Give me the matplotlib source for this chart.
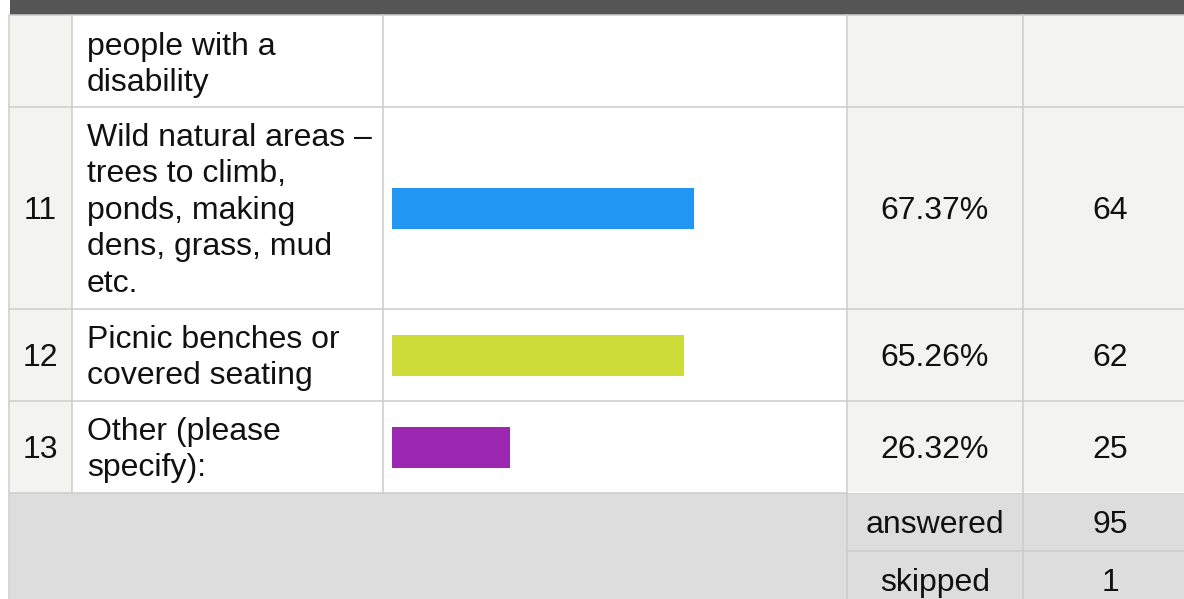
# survey results table with inline bars
import matplotlib
matplotlib.use("Agg")
import matplotlib.pyplot as plt
from matplotlib.patches import Rectangle

plt.rcParams['font.family'] = ['Liberation Sans', 'DejaVu Sans']

# data
top_label = ["people with a", "disability"]
row_numbers = ["11", "12", "13"]
row_labels = [["Wild natural areas –", "trees to climb,", "ponds, making", "dens, grass, mud", "etc."],
              ["Picnic benches or", "covered seating"],
              ["Other (please", "specify):"]]
percents = [67.37, 65.26, 26.32]
counts = [64, 62, 25]
bar_colors = ["#2196F3", "#CDDC39", "#9C27B0"]
footer_labels = ["answered", "skipped"]
footer_values = [95, 1]

# layout in pixels
W, H = 1184, 599
col_x = [10, 72, 383, 847, 1023, 1200]
row_y = [15, 107, 309, 401, 493]
foot_y = [493, 551, 609]
line_gap = 36.5
fs = 23
line_col = "#cccccc"
light = "#f3f3f2"
foot_bg = "#dddddd"

fig = plt.figure(figsize=(W / 100, H / 100), dpi=100)
ax = fig.add_axes([0, 0, 1, 1])
ax.set_xlim(0, W)
ax.set_ylim(H, 0)
ax.axis("off")

# header strip
ax.add_patch(Rectangle((col_x[0], 0), W - col_x[0], row_y[0], color="#545554", lw=0))

# cell backgrounds
for y0, y1 in zip(row_y[:-1], row_y[1:]):
    ax.add_patch(Rectangle((col_x[0], y0), col_x[1] - col_x[0], y1 - y0, color=light, lw=0))
    ax.add_patch(Rectangle((col_x[3], y0), col_x[5] - col_x[3], y1 - y0, color=light, lw=0))
ax.add_patch(Rectangle((col_x[0], foot_y[0]), W, foot_y[-1] - foot_y[0], color=foot_bg, lw=0))

# grid lines
lw = 1.1
for y in row_y:
    ax.plot([col_x[0], W], [y, y], color=line_col, lw=lw)
ax.plot([col_x[3], W], [foot_y[1], foot_y[1]], color=line_col, lw=lw)
ax.plot([col_x[3], W], [foot_y[0] - 1, foot_y[0] - 1], color="white", lw=0.8)
ax.plot([9, 9], [row_y[0], H], color=line_col, lw=lw)
for x in col_x[1:3]:
    ax.plot([x, x], [row_y[0], row_y[-1]], color=line_col, lw=lw)
for x in col_x[3:5]:
    ax.plot([x, x], [row_y[0], H], color=line_col, lw=lw)


def lines_at(lines, center, x, ha="left"):
    n = len(lines)
    for i, s in enumerate(lines):
        base = center + 11 + (i - (n - 1) / 2) * line_gap
        ax.text(x, base, s, fontsize=fs, ha=ha, va="baseline", color="#111111")


# partially visible first row
lines_at(top_label, 62.25, 87)

num_cx = 40
pct_cx = (col_x[3] + col_x[4]) / 2
cnt_cx = 1110
centers = [(a + b) / 2 for a, b in zip(row_y[1:-1], row_y[2:])]
for c, num, lab, p, n in zip(centers, row_numbers, row_labels, percents, counts):
    lines_at([num], c, num_cx, ha="center")
    lines_at(lab, c, 87)
    lines_at([f"{p:.2f}%"], c, pct_cx, ha="center")
    lines_at([str(n)], c, cnt_cx, ha="center")

for (y0, y1), lab, v in zip(zip(foot_y[:-1], foot_y[1:]), footer_labels, footer_values):
    c = (y0 + y1) / 2
    lines_at([lab], c, pct_cx, ha="center")
    lines_at([str(v)], c, cnt_cx, ha="center")

# bars, 0-100% across the bar column
bx0, bx1 = 392, 840
bax = fig.add_axes([bx0 / W, 0, (bx1 - bx0) / W, 1])
bax.set_xlim(0, 100)
bax.set_ylim(H, 0)
bax.axis("off")
bax.patch.set_alpha(0)
bax.barh(centers, percents, height=41, color=bar_colors)

fig.savefig("out.png", dpi=100)
